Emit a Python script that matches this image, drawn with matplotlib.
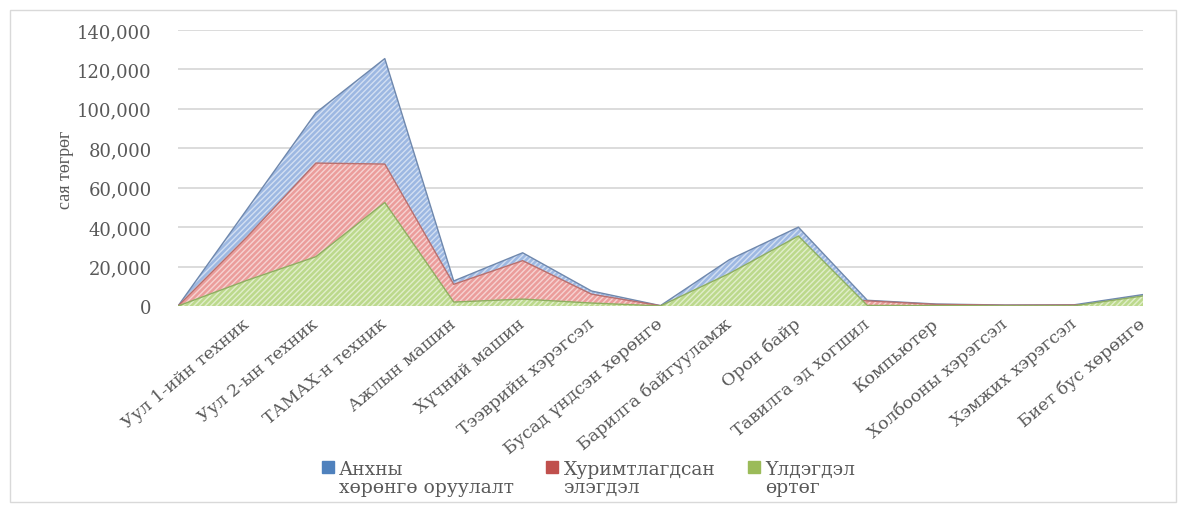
import matplotlib
matplotlib.use("Agg")
import matplotlib.pyplot as plt
from matplotlib.lines import Line2D
from matplotlib.patches import Rectangle
from matplotlib.ticker import FuncFormatter
from matplotlib.legend_handler import HandlerLine2D

# Asset categories (leading blank slot anchors the areas at zero)
categories = ["", "Уул 1-ийн техник", "Уул 2-ын техник", "ТАМАХ-н техник",
              "Ажлын машин", "Хүчний машин", "Тээврийн хэрэгсэл",
              "Бусад үндсэн хөрөнгө", "Барилга байгууламж", "Орон байр",
              "Тавилга эд хогшил", "Компьютер", "Холбооны хэрэгсэл",
              "Хэмжих хэрэгсэл", "Биет бус хөрөнгө"]

# Values, million MNT
initial_cost = [0, 49000, 98000, 125500, 12700, 27000, 7600, 200,
                23500, 40000, 2900, 1000, 500, 600, 5800]
accum_depr = [0, 35000, 72500, 72000, 11000, 23000, 6000, 150,
              7000, 4500, 2600, 800, 400, 500, 700]
residual = [0, 13000, 25000, 52500, 2000, 3500, 1500, 50,
            16500, 35500, 300, 200, 100, 100, 5100]

series_labels = ["Анхны\nхөрөнгө оруулалт", "Хуримтлагдсан\nэлэгдэл", "Үлдэгдэл\nөртөг"]
yticks = [0, 20000, 40000, 60000, 80000, 100000, 120000, 140000]


class TopAlignedHandler(HandlerLine2D):
    """Places the legend marker level with the first line of a two-line label."""
    def __init__(self, lift=8.0, **kw):
        super().__init__(**kw)
        self.lift = lift

    def create_artists(self, legend, orig_handle, xdescent, ydescent,
                       width, height, fontsize, trans):
        return super().create_artists(legend, orig_handle, xdescent,
                                      ydescent - 2 * self.lift, width, height,
                                      fontsize, trans)


W, H = 1182, 506
fig = plt.figure(figsize=(W / 100, H / 100), dpi=100)
ax = fig.add_axes([178 / W, 1 - 307 / H, (1143 - 178) / W, (307 - 31) / H])

x = list(range(len(categories)))
styles = [
    (initial_cost, "#9db8e2", "#6f88ad"),
    (accum_depr, "#eb9d9b", "#b8706e"),
    (residual, "#bcd98c", "#8fae62"),
]
plt.rcParams["hatch.linewidth"] = 1.0
for i, (vals, face, edge) in enumerate(styles):
    ax.fill_between(x, 0, vals, facecolor=face, edgecolor="none", zorder=2 + i)
    ax.fill_between(x, 0, vals, facecolor="none", edgecolor=(1, 1, 1, 0.55),
                    hatch="//////", linewidth=0, zorder=2 + i)
    ax.plot(x, vals, color=edge, lw=1.0, zorder=2 + i)

ax.set_xlim(0, len(categories) - 1)
ax.set_ylim(0, 140000)
ax.set_yticks(yticks)
ax.yaxis.set_major_formatter(FuncFormatter(lambda v, p: f"{int(v):,}"))
ax.grid(axis="y", color="#d9d9d9", lw=1.3, zorder=0)
ax.set_axisbelow(True)
for s in ax.spines.values():
    s.set_visible(False)
ax.tick_params(axis="both", length=0, colors="#595959")
ax.tick_params(axis="y", pad=19)
for lab in ax.get_yticklabels():
    lab.set_fontfamily("DejaVu Serif")
    lab.set_fontsize(13)

ax.set_xticks(x)
ax.set_xticklabels(categories, rotation=40, ha="right", va="center",
                   rotation_mode="anchor", fontfamily="DejaVu Serif",
                   fontsize=12.5, color="#595959")
ax.tick_params(axis="x", pad=11)

fig.text(65 / W, 1 - 170 / H, "сая төгрөг", rotation=90, ha="center", va="center",
         fontfamily="Liberation Serif", fontsize=13, color="#595959")

handles = [Line2D([], [], marker="s", linestyle="none", markersize=8, color=c)
           for c in ["#4f81bd", "#c0504d", "#9bbb59"]]
leg = fig.legend(handles, series_labels, loc="center", ncol=3,
                 bbox_to_anchor=(588 / W, 1 - 479 / H), frameon=False,
                 prop={"family": "DejaVu Serif", "size": 13.5},
                 handlelength=0.7, handletextpad=0.25, columnspacing=1.7,
                 handler_map={Line2D: TopAlignedHandler(lift=8.5)})
for t in leg.get_texts():
    t.set_color("#595959")
    t.set_linespacing(1.05)

fig.patches.append(Rectangle((10 / W, 3 / H), (1176 - 10) / W, (503 - 11) / H,
                             transform=fig.transFigure, fill=False,
                             ec="#d9d9d9", lw=1.0))

fig.savefig("out.png", dpi=100)
